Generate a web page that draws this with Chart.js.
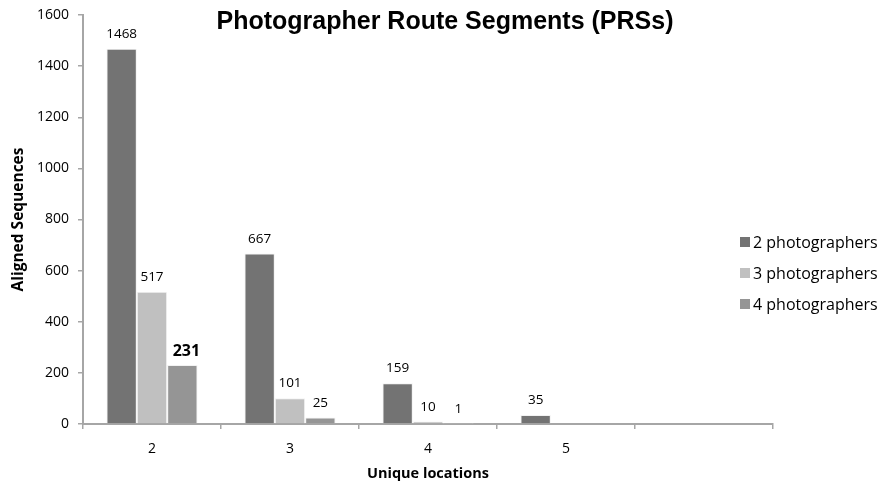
<!DOCTYPE html>
<html>
<head>
<meta charset="utf-8">
<script src="https://cdn.jsdelivr.net/npm/chart.js@4"></script>
<style>
  html, body { margin: 0; padding: 0; background: #fff; }
  #wrap { width: 884px; height: 488px; position: relative; }
</style>
</head>
<body>
<div id="wrap"><canvas id="prsChart"></canvas></div>
<script>
// Data
const categories = ['2', '3', '4', '5', ''];
const seriesNames = ['2 photographers', '3 photographers', '4 photographers'];
const twoPhotographers = [1468, 667, 159, 35, null];
const threePhotographers = [517, 101, 10, null, null];
const fourPhotographers = [231, 25, 1, null, null];
const yTicks = [0, 200, 400, 600, 800, 1000, 1200, 1400, 1600];

const colors = ['#737373', '#c0c0c0', '#959595'];
const axisGrey = '#a6a6a6';
const font = "'Open Sans', sans-serif";

// Value labels above bars (the 231 one is bold in the original)
const valueLabels = {
  id: 'valueLabels',
  afterDatasetsDraw(chart) {
    const ctx = chart.ctx;
    ctx.save();
    ctx.textAlign = 'center';
    ctx.textBaseline = 'bottom';
    ctx.fillStyle = '#000';
    chart.data.datasets.forEach((ds, di) => {
      chart.getDatasetMeta(di).data.forEach((bar, i) => {
        const v = ds.data[i];
        if (v === null) return;
        const bold = di === 2 && i === 0;
        ctx.font = bold ? `bold 16px ${font}` : `13.5px ${font}`;
        ctx.fillText(String(v), bar.x + (bold ? 4 : 0), bar.y - (bold ? 6 : 8));
      });
    });
    ctx.restore();
  }
};

// Title drawn over the plot (it overlaps the axis top in the original)
const topTitle = {
  id: 'topTitle',
  afterDraw(chart) {
    const ctx = chart.ctx;
    ctx.save();
    ctx.font = "bold 25px 'Liberation Sans', Arial, sans-serif";
    ctx.fillStyle = '#000';
    ctx.textAlign = 'center';
    ctx.textBaseline = 'middle';
    ctx.fillText('Photographer Route Segments (PRSs)', 445, 22);
    ctx.restore();
  }
};

// Legend on the right, overlapping the end of the x axis like the original
const sideLegend = {
  id: 'sideLegend',
  afterDraw(chart) {
    const ctx = chart.ctx;
    ctx.save();
    ctx.font = `16px ${font}`;
    ctx.textBaseline = 'middle';
    ctx.textAlign = 'left';
    chart.data.datasets.forEach((ds, i) => {
      const y = 242 + i * 31;
      ctx.fillStyle = ds.backgroundColor;
      ctx.fillRect(740, y - 5, 10, 10);
      ctx.fillStyle = '#000';
      ctx.fillText(ds.label, 753, y + 1);
    });
    ctx.restore();
  }
};

new Chart(document.getElementById('prsChart'), {
  type: 'bar',
  data: {
    labels: categories,
    datasets: [twoPhotographers, threePhotographers, fourPhotographers].map((d, i) => ({
      label: seriesNames[i],
      data: d,
      backgroundColor: colors[i],
      borderColor: '#f2f2f2',
      borderWidth: 1,
      categoryPercentage: 0.66,
      barPercentage: 1.0
    }))
  },
  options: {
    responsive: true,
    maintainAspectRatio: false,
    animation: false,
    layout: { padding: { top: 15, right: 111, bottom: 0, left: 0 } },
    plugins: {
      legend: { display: false },
      tooltip: { enabled: false }
    },
    scales: {
      x: {
        grid: { drawOnChartArea: false, drawTicks: true, tickLength: 5, color: axisGrey, lineWidth: 1.5 },
        border: { color: axisGrey, width: 2 },
        ticks: { color: '#000', font: { family: font, size: 14 }, padding: 12 },
        title: { display: true, text: 'Unique locations', color: '#000', font: { family: font, size: 14.5, weight: 'bold' }, padding: { top: 5, bottom: 5 } },
        afterFit: s => { s.height = 64; }
      },
      y: {
        min: 0,
        max: 1600,
        afterBuildTicks: s => { s.ticks = yTicks.map(v => ({ value: v })); },
        grid: { drawOnChartArea: false, drawTicks: true, tickLength: 5, color: axisGrey, lineWidth: 1.5 },
        border: { color: axisGrey, width: 2 },
        ticks: { color: '#000', font: { family: font, size: 14 }, padding: 9, callback: v => String(v) },
        title: { display: true, text: 'Aligned Sequences', color: '#000', font: { family: font, size: 15.5, weight: 'bold' }, padding: { top: 9, bottom: 9 } },
        afterFit: s => { s.width = 83; s.paddingTop = 0; s.paddingBottom = 0; }
      }
    }
  },
  plugins: [valueLabels, topTitle, sideLegend]
});
</script>
</body>
</html>
